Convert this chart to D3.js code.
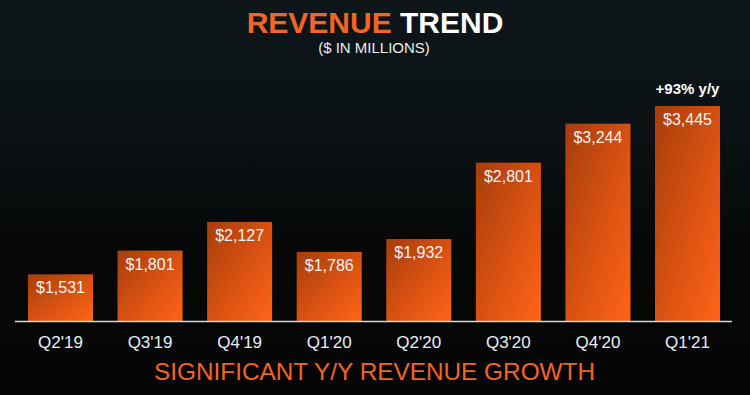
<!DOCTYPE html>
<html>
<head>
<meta charset="utf-8">
<script src="https://cdn.jsdelivr.net/npm/d3@7"></script>
<style>
    html, body { margin: 0; padding: 0; background: #050606; }
    svg { display: block; font-family: "Liberation Sans", Arial, sans-serif; }
</style>
</head>
<body>
<div class="content"></div>
<script>
const quarters = ["Q2'19", "Q3'19", "Q4'19", "Q1'20", "Q2'20", "Q3'20", "Q4'20", "Q1'21"];
const revenue = [1531, 1801, 2127, 1786, 1932, 2801, 3244, 3445];
const valueLabels = ["$1,531", "$1,801", "$2,127", "$1,786", "$1,932", "$2,801", "$3,244", "$3,445"];
const growthNote = "+93% y/y";

const width = 750;
const height = 395;
const baseY = 321;

const svg = d3.select(".content")
    .append("svg")
    .attr("width", width)
    .attr("height", height);

const defs = svg.append("defs");

const bg = defs.append("linearGradient")
    .attr("id", "bg")
    .attr("x1", 0).attr("y1", 0)
    .attr("x2", 0).attr("y2", 1);
bg.append("stop").attr("offset", "0%").attr("stop-color", "#0e1619");
bg.append("stop").attr("offset", "35%").attr("stop-color", "#0b1114");
bg.append("stop").attr("offset", "65%").attr("stop-color", "#060707");
bg.append("stop").attr("offset", "100%").attr("stop-color", "#040404");

const barFill = defs.append("linearGradient")
    .attr("id", "barFill")
    .attr("x1", 0).attr("y1", 0)
    .attr("x2", 1).attr("y2", 1);
barFill.append("stop").attr("offset", "0%").attr("stop-color", "#a63e0c");
barFill.append("stop").attr("offset", "55%").attr("stop-color", "#da5212");
barFill.append("stop").attr("offset", "100%").attr("stop-color", "#ff6418");

svg.append("rect")
    .attr("width", width)
    .attr("height", height)
    .attr("fill", "url(#bg)");

// chart scales
const x = d3.scaleBand()
    .domain(quarters)
    .range([15.7, 732.3])
    .paddingInner(0.274)
    .paddingOuter(0.137);

const y = d3.scaleLinear()
    .domain([1000, 4000])
    .range([baseY, 57.2]);

const data = quarters.map((q, i) => ({ q, value: revenue[i], label: valueLabels[i] }));

svg.selectAll(".bar")
    .data(data)
    .join("rect")
    .attr("class", "bar")
    .attr("x", d => x(d.q))
    .attr("y", d => y(d.value))
    .attr("width", x.bandwidth())
    .attr("height", d => baseY - y(d.value))
    .attr("fill", "url(#barFill)");

svg.selectAll(".value-text")
    .data(data)
    .join("text")
    .attr("class", "value-text")
    .attr("x", d => x(d.q) + x.bandwidth() / 2)
    .attr("y", d => y(d.value) + 19)
    .attr("text-anchor", "middle")
    .attr("fill", "#f4f4f4")
    .style("font-size", "16px")
    .text(d => d.label);

// baseline
svg.append("line")
    .attr("x1", 15)
    .attr("x2", 732)
    .attr("y1", baseY + 0.5)
    .attr("y2", baseY + 0.5)
    .attr("stroke", "#d8d8d8")
    .attr("stroke-width", 1.5);

const xAxis = svg.append("g")
    .attr("transform", `translate(0,${baseY})`)
    .call(d3.axisBottom(x).tickSize(0).tickPadding(0));
xAxis.select(".domain").remove();
xAxis.selectAll("text")
    .attr("y", 27)
    .attr("dy", 0)
    .attr("fill", "#e6eef5")
    .style("font-size", "17px")
    .style("font-family", "\"Liberation Sans\", Arial, sans-serif");

// growth note above last bar
const last = data[data.length - 1];
svg.append("text")
    .attr("x", x(last.q) + x.bandwidth() / 2)
    .attr("y", 94)
    .attr("text-anchor", "middle")
    .attr("fill", "#ffffff")
    .style("font-size", "15px")
    .style("font-weight", "bold")
    .text(growthNote);

// titles
const title = svg.append("text")
    .attr("x", 375)
    .attr("y", 33)
    .attr("text-anchor", "middle")
    .style("font-size", "30px")
    .style("font-weight", "bold");
title.append("tspan").attr("fill", "#f26522").text("REVENUE");
title.append("tspan").attr("fill", "#ffffff").text(" TREND");

svg.append("text")
    .attr("x", 374)
    .attr("y", 53)
    .attr("text-anchor", "middle")
    .attr("fill", "#e8eef2")
    .style("font-size", "15px")
    .text("($ IN MILLIONS)");

svg.append("text")
    .attr("x", 374.5)
    .attr("y", 380)
    .attr("text-anchor", "middle")
    .attr("fill", "#f26522")
    .attr("textLength", 441)
    .attr("lengthAdjust", "spacingAndGlyphs")
    .style("font-size", "24px")
    .text("SIGNIFICANT Y/Y REVENUE GROWTH");
</script>
</body>
</html>
